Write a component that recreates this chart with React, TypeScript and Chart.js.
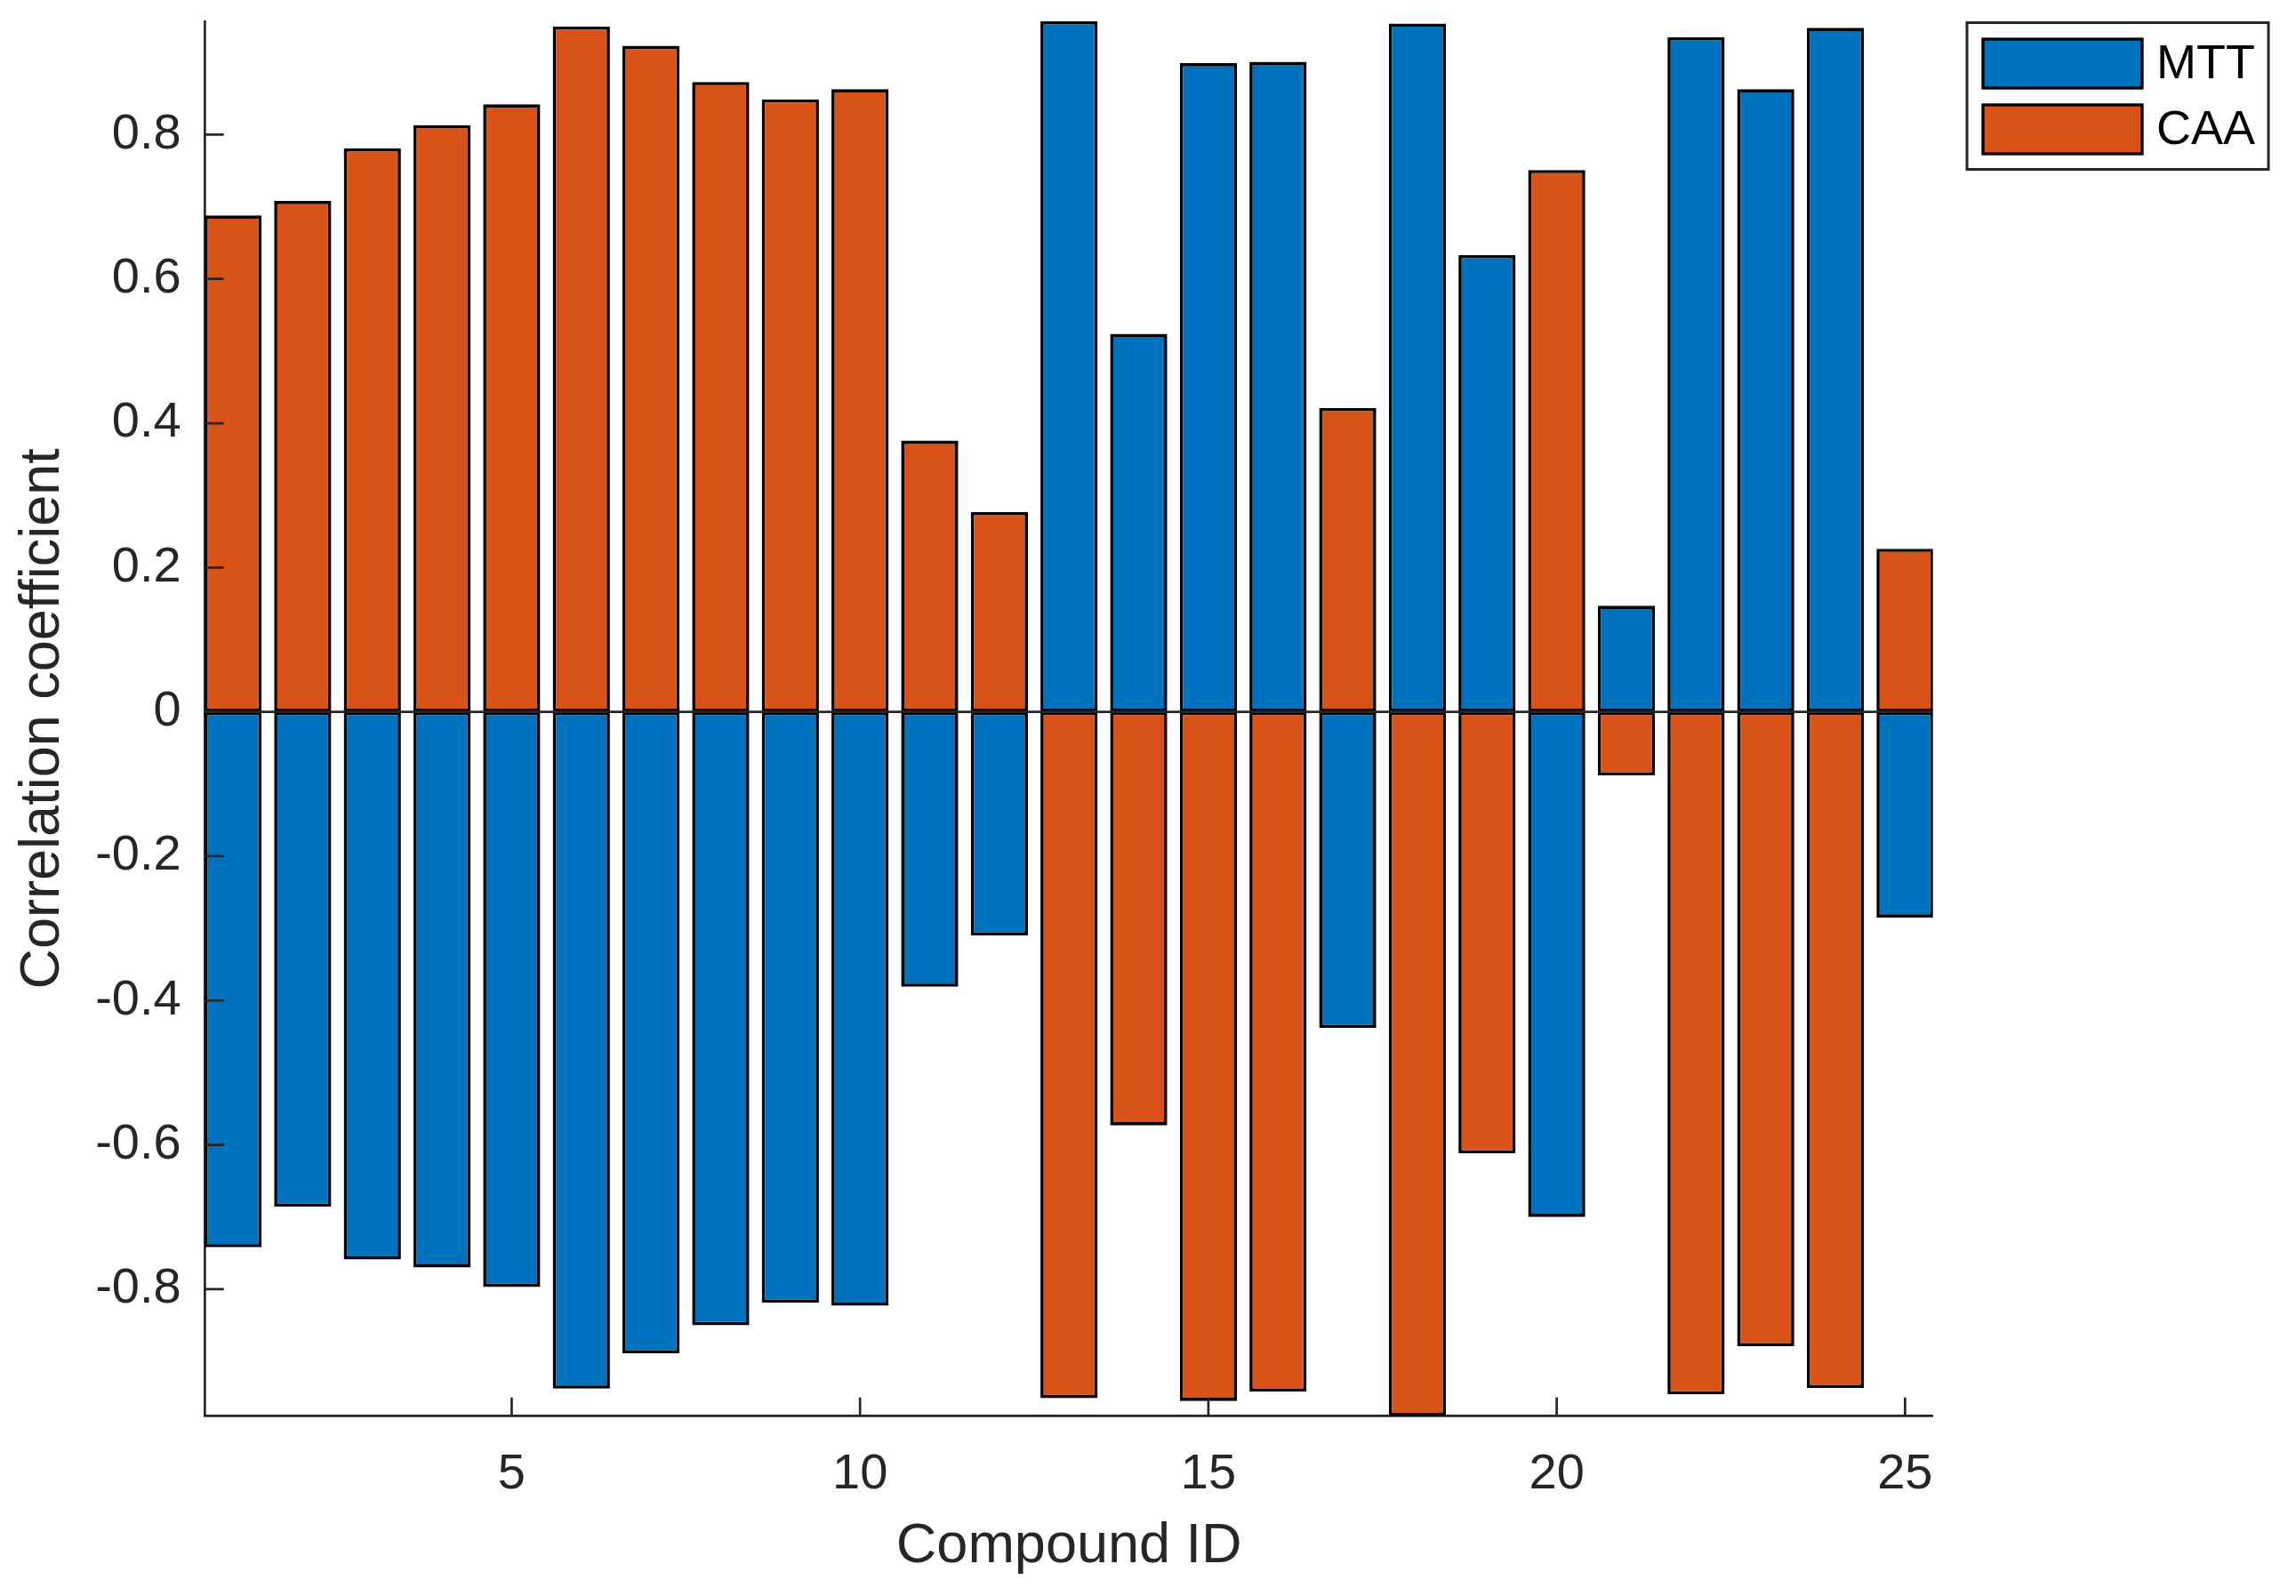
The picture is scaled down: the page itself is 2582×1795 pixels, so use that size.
import React, { useEffect, useRef } from "react";
import { Chart, registerables } from "chart.js";

Chart.register(...registerables);

const compoundIds = [1, 2, 3, 4, 5, 6, 7, 8, 9, 10, 11, 12, 13, 14, 15, 16, 17, 18, 19, 20, 21, 22, 23, 24, 25];
const mttValues = [-0.742, -0.686, -0.759, -0.770, -0.797, -0.938, -0.889, -0.850, -0.819, -0.823, -0.381, -0.310, 0.957, 0.524, 0.899, 0.901, -0.438, 0.954, 0.633, -0.700, 0.147, 0.935, 0.863, 0.948, -0.285];
const caaValues = [0.688, 0.708, 0.781, 0.813, 0.842, 0.950, 0.923, 0.873, 0.849, 0.863, 0.376, 0.277, -0.951, -0.573, -0.955, -0.942, 0.421, -0.976, -0.612, 0.751, -0.088, -0.946, -0.879, -0.937, 0.226];
const seriesLabels = ["MTT", "CAA"];
const xTickValues = [5, 10, 15, 20, 25];
const xTickLabels = ["5", "10", "15", "20", "25"];
const yTickValues = [-0.8, -0.6, -0.4, -0.2, 0, 0.2, 0.4, 0.6, 0.8];
const yTickLabels = ["-0.8", "-0.6", "-0.4", "-0.2", "0", "0.2", "0.4", "0.6", "0.8"];

const W = 2582;
const H = 1795;
const FONT = "'Liberation Sans', Arial, Helvetica, sans-serif";
const AXIS_COLOR = "#262626";
const COLORS = ["#0072BD", "#D95319"];

const innerTicksPlugin = {
  id: "innerTicks",
  afterDatasetsDraw(chart: any) {
    const ctx = chart.ctx;
    const { left, right, bottom } = chart.chartArea;
    const xs = chart.scales.x;
    const ys = chart.scales.y;
    ctx.save();
    const y0 = ys.getPixelForValue(0);
    ctx.strokeStyle = AXIS_COLOR;
    ctx.lineWidth = 2.8;
    ctx.beginPath();
    ctx.moveTo(left, y0);
    ctx.lineTo(right, y0);
    ctx.stroke();
    ctx.lineWidth = 2.7;
    const len = 21;
    ctx.beginPath();
    xs.ticks.forEach((t: any) => {
      const px = xs.getPixelForValue(t.value);
      ctx.moveTo(px, bottom);
      ctx.lineTo(px, bottom - len);
    });
    ys.ticks.forEach((t: any) => {
      const py = ys.getPixelForValue(t.value);
      ctx.moveTo(left, py);
      ctx.lineTo(left + len, py);
    });
    ctx.stroke();
    ctx.restore();
  },
};

const boxLegendPlugin = {
  id: "boxLegend",
  afterDraw(chart: any) {
    const ctx = chart.ctx;
    const ds = chart.data.datasets;
    ctx.save();
    const bx = 2212, by = 25.5, bw = 339, bh = 165;
    ctx.fillStyle = "#ffffff";
    ctx.fillRect(bx, by, bw, bh);
    ctx.strokeStyle = AXIS_COLOR;
    ctx.lineWidth = 3;
    ctx.strokeRect(bx, by, bw, bh);
    const swX = 2230, swW = 179, swH = 55;
    const rowsY = [44, 118];
    ds.forEach((d: any, i: number) => {
      const sy = rowsY[i];
      ctx.fillStyle = d.backgroundColor;
      ctx.fillRect(swX, sy, swW, swH);
      ctx.strokeStyle = "#000000";
      ctx.lineWidth = 3.3;
      ctx.strokeRect(swX, sy, swW, swH);
      ctx.fillStyle = "#000000";
      ctx.font = `54px ${FONT}`;
      ctx.textBaseline = "middle";
      ctx.textAlign = "left";
      ctx.fillText(d.label, 2425, sy + swH / 2 + 2);
    });
    ctx.restore();
  },
};

export default function App() {
  const ref = useRef<HTMLCanvasElement | null>(null);

  useEffect(() => {
    document.body.style.margin = "0";
    const canvas = ref.current;
    if (!canvas) return;
    const chart = new Chart(canvas, {
      type: "bar",
      data: {
        datasets: [
          {
            label: seriesLabels[0],
            data: compoundIds.map((x, i) => ({ x, y: mttValues[i] })),
            backgroundColor: COLORS[0],
            borderColor: "#000000",
            borderWidth: 3.6,
            borderSkipped: false,
            grouped: false,
            categoryPercentage: 0.82,
            barPercentage: 1.0,
          } as any,
          {
            label: seriesLabels[1],
            data: compoundIds.map((x, i) => ({ x, y: caaValues[i] })),
            backgroundColor: COLORS[1],
            borderColor: "#000000",
            borderWidth: 3.6,
            borderSkipped: false,
            grouped: false,
            categoryPercentage: 0.82,
            barPercentage: 1.0,
          } as any,
        ],
      },
      options: {
        responsive: false,
        devicePixelRatio: 1,
        animation: false,
        layout: { padding: { left: 0, top: 24, right: W - 2173.7, bottom: 0 } },
        plugins: {
          legend: { display: false },
          tooltip: { enabled: false },
        },
        scales: {
          x: {
            type: "linear",
            offset: false,
            min: 0.6,
            max: 25.4,
            afterBuildTicks: (scale: any) => {
              scale.ticks = xTickValues.map((v) => ({ value: v }));
            },
            afterFit: (scale: any) => {
              scale.height = H - 1592.7;
              scale.paddingLeft = 0;
              scale.paddingRight = 0;
            },
            grid: { display: false, drawTicks: false, offset: false },
            border: { display: true, color: AXIS_COLOR, width: 2.7 },
            ticks: {
              color: AXIS_COLOR,
              font: { size: 56, family: FONT },
              padding: 32,
              maxRotation: 0,
              autoSkip: false,
              callback: (v: any) => {
                const i = xTickValues.indexOf(Number(v));
                return i >= 0 ? xTickLabels[i] : "";
              },
            },
            title: {
              display: true,
              text: "Compound ID",
              color: AXIS_COLOR,
              font: { size: 63, family: FONT },
              padding: { top: 18, bottom: 18 },
            },
          },
          y: {
            type: "linear",
            min: -0.976,
            max: 0.957,
            afterBuildTicks: (scale: any) => {
              scale.ticks = yTickValues.map((v) => ({ value: v }));
            },
            afterFit: (scale: any) => {
              scale.width = 230.7;
              scale.paddingTop = 0;
              scale.paddingBottom = 0;
            },
            grid: { display: false, drawTicks: false },
            border: { display: true, color: AXIS_COLOR, width: 2.7 },
            ticks: {
              color: AXIS_COLOR,
              font: { size: 56, family: FONT },
              padding: 27,
              autoSkip: false,
              callback: (v: any) => {
                const i = yTickValues.findIndex((t) => Math.abs(t - Number(v)) < 1e-9);
                return i >= 0 ? yTickLabels[i] : "";
              },
            },
            title: {
              display: true,
              text: "Correlation coefficient",
              color: AXIS_COLOR,
              font: { size: 63, family: FONT },
              padding: { top: 11, bottom: 11 },
            },
          },
        },
      } as any,
      plugins: [innerTicksPlugin, boxLegendPlugin],
    });
    return () => chart.destroy();
  }, []);

  return (
    <div style={{ position: "absolute", left: 0, top: 0, width: W, height: H, background: "#ffffff" }}>
      <canvas ref={ref} width={W} height={H} style={{ width: W, height: H, display: "block" }} />
    </div>
  );
}
